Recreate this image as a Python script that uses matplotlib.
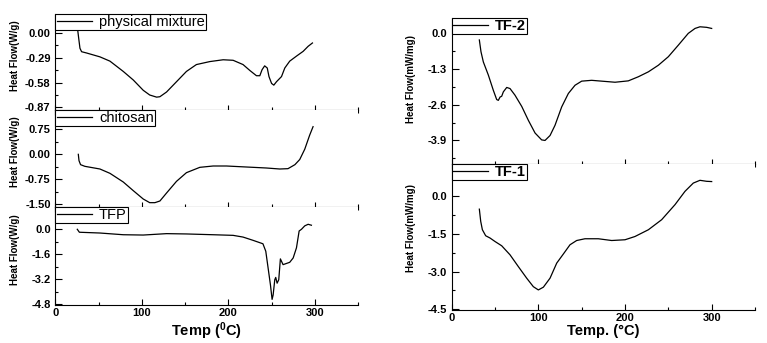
import matplotlib
matplotlib.use("Agg")
import matplotlib.pyplot as plt
from matplotlib.ticker import MultipleLocator, AutoMinorLocator

plt.rcParams["font.family"] = ["Liberation Sans", "DejaVu Sans"]

# physical mixture
pm_t = [25.6, 26.8, 28.3, 30.2, 36, 51.4, 63, 78.4, 90, 101.5, 109, 117, 120.8, 128.5, 140, 151.5,
        163, 178.6, 194, 205.5, 217, 225, 232.5, 236.4, 239, 242, 245, 247, 250, 252.6, 255.7,
        261.5, 265.3, 271, 279, 286.5, 292.3, 297.3]
pm_h = [0.04, -0.06, -0.18, -0.22, -0.235, -0.28, -0.33, -0.45, -0.55, -0.67, -0.725, -0.75, -0.745,
        -0.69, -0.57, -0.45, -0.37, -0.335, -0.314, -0.32, -0.37, -0.44, -0.50, -0.50, -0.43, -0.385,
        -0.41, -0.51, -0.59, -0.61, -0.57, -0.51, -0.41, -0.33, -0.27, -0.216, -0.157, -0.118]

# chitosan
ch_t = [26.4, 27.2, 29, 34, 51.4, 63, 78.4, 90, 101.5, 109, 115, 120.8, 128.5, 140, 151.5, 167,
        182.4, 197.8, 213, 228.6, 244, 259.5, 269, 277, 282.6, 288.4, 294, 298]
ch_h = [0.0, -0.19, -0.31, -0.36, -0.44, -0.57, -0.83, -1.09, -1.34, -1.45, -1.45, -1.40, -1.16,
        -0.81, -0.55, -0.39, -0.35, -0.35, -0.37, -0.39, -0.41, -0.44, -0.43, -0.31, -0.155, 0.155,
        0.57, 0.83]

# TFP
tfp_t = [25.2, 27.6, 51.4, 78.4, 101.5, 128.5, 151.5, 182.4, 205.5, 217, 228.6, 240, 243.3, 246,
         248.7, 250.6, 251.8, 253.7, 254.8, 256.4, 258.3, 260.2, 263.3, 271, 275, 278.8, 281.9,
         284.6, 288.4, 292.3, 296.1]
tfp_h = [0.0, -0.19, -0.24, -0.35, -0.37, -0.28, -0.30, -0.35, -0.39, -0.50, -0.71, -0.93, -1.41,
         -2.49, -3.57, -4.50, -4.22, -3.24, -3.09, -3.46, -3.24, -1.90, -2.27, -2.12, -1.84, -1.19,
         -0.11, 0.0, 0.22, 0.32, 0.26]

# TF-2
tf2_t = [31.9, 33.8, 36.5, 42.3, 48, 51.9, 53.8, 55.8, 57.7, 59.6, 63.5, 67.3, 73, 80.8, 88.5, 96.2,
         103.8, 107.7, 113.5, 119.2, 126.9, 134.6, 142.3, 150, 161.5, 173, 188.5, 203.8, 215.4, 227,
         238.5, 250, 261.5, 273, 280.8, 286.5, 294.2, 300]
tf2_h = [-0.24, -0.67, -1.04, -1.52, -2.07, -2.41, -2.44, -2.32, -2.29, -2.13, -1.97, -2.01, -2.25,
         -2.66, -3.17, -3.63, -3.88, -3.90, -3.72, -3.35, -2.68, -2.19, -1.89, -1.74, -1.71, -1.74,
         -1.78, -1.73, -1.58, -1.40, -1.16, -0.85, -0.43, 0.0, 0.18, 0.24, 0.22, 0.18]

# TF-1
tf1_t = [31.9, 33.5, 35.4, 39.2, 44.2, 50, 57.7, 67.3, 76.9, 86.5, 94.2, 100, 105.8, 113.5, 121.2,
         128.8, 136.5, 144.2, 153.8, 169.2, 184.6, 200, 211.5, 227, 242.3, 257.7, 269.2, 278.8,
         286.5, 294.2, 300]
tf1_h = [-0.51, -1.0, -1.33, -1.57, -1.66, -1.80, -1.97, -2.33, -2.80, -3.26, -3.60, -3.73, -3.62,
         -3.26, -2.66, -2.30, -1.93, -1.76, -1.69, -1.69, -1.76, -1.73, -1.60, -1.33, -0.93, -0.33,
         0.20, 0.53, 0.64, 0.60, 0.59]

W, H = 767, 343
fig = plt.figure(figsize=(W / 100, H / 100), dpi=100)


def box(x0, x1, top, bottom):
    return [x0 / W, 1 - bottom / H, (x1 - x0) / W, (bottom - top) / H]


def style(ax, t, h, name, ylim, ystep, ylabel, bottom, bold_leg=False, lab_y=0.57):
    ax.plot(t, h, color="black", lw=0.9)
    ax.set_xlim(0, 350)
    ax.set_ylim(*ylim)
    ax.spines["top"].set_visible(False)
    ax.spines["right"].set_visible(False)
    ax.xaxis.set_major_locator(MultipleLocator(100))
    ax.xaxis.set_minor_locator(MultipleLocator(50))
    ax.yaxis.set_major_locator(MultipleLocator(ystep))
    ax.yaxis.set_minor_locator(AutoMinorLocator(2))
    ax.tick_params(axis="y", which="major", direction="in", length=5, width=0.8, labelsize=8)
    ax.tick_params(axis="y", which="minor", direction="in", length=2.5, width=0.8)
    if bottom:
        ax.tick_params(axis="x", which="major", direction="in", length=4, width=0.8, labelsize=8, pad=2)
        ax.tick_params(axis="x", which="minor", direction="in", length=2.5, width=0.8)
    else:
        ax.tick_params(axis="x", which="major", direction="inout", length=7, width=0.8, labelbottom=False)
        ax.tick_params(axis="x", which="minor", direction="inout", length=4, width=0.8)
    ax.set_ylabel(ylabel, fontsize=7, fontweight="bold")
    ax.yaxis.set_label_coords(-0.118, lab_y)
    leg = ax.legend([name], loc="upper left", bbox_to_anchor=(0, 1.0), borderaxespad=0,
                    fancybox=False, edgecolor="black", framealpha=1, handlelength=2.4,
                    handletextpad=0.5, borderpad=0.08,
                    prop={"size": 10.5, "weight": "bold" if bold_leg else "normal"})
    leg.get_frame().set_linewidth(0.8)


ax1 = fig.add_axes(box(55.5, 358, 14, 110))
style(ax1, pm_t, pm_h, "physical mixture", (-0.90, 0.22), 0.29, "Heat Flow(W/g)", False)
ax1.yaxis.set_major_formatter(plt.FormatStrFormatter("%.2f"))

ax2 = fig.add_axes(box(55.5, 358, 110, 207))
style(ax2, ch_t, ch_h, "chitosan", (-1.58, 1.33), 0.75, "Heat Flow(W/g)", False)
ax2.yaxis.set_major_formatter(plt.FormatStrFormatter("%.2f"))

ax3 = fig.add_axes(box(55.5, 358, 207, 305))
style(ax3, tfp_t, tfp_h, "TFP", (-4.86, 1.43), 1.6, "Heat Flow(W/g)", True)
ax3.yaxis.set_major_formatter(plt.FormatStrFormatter("%.1f"))
ax3.set_xlabel(r"Temp ($\mathregular{^0}$C)", fontsize=10.5, fontweight="bold", labelpad=2)

ax4 = fig.add_axes(box(451.7, 755, 18, 163.5))
style(ax4, tf2_t, tf2_h, "TF-2", (-4.74, 0.56), 1.3, "Heat Flow(mW/mg)", False, True, 0.58)
ax4.yaxis.set_major_formatter(plt.FormatStrFormatter("%.1f"))

ax5 = fig.add_axes(box(451.7, 755, 163.5, 310))
style(ax5, tf1_t, tf1_h, "TF-1", (-4.53, 1.31), 1.5, "Heat Flow(mW/mg)", True, True, 0.56)
ax5.yaxis.set_major_formatter(plt.FormatStrFormatter("%.1f"))
ax5.set_xlabel("Temp. (°C)", fontsize=10.5, fontweight="bold", labelpad=1)

for ax in (ax1, ax2, ax3, ax4, ax5):
    for lab in ax.get_yticklabels() + ax.get_xticklabels():
        lab.set_fontweight("bold")

fig.savefig("out.png", dpi=100)
